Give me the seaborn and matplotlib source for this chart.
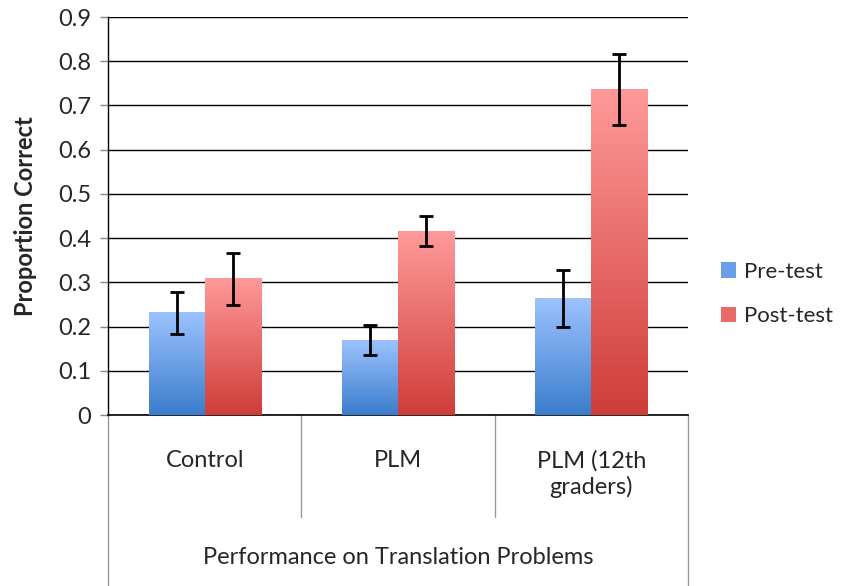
import numpy as np
import pandas as pd
import matplotlib
matplotlib.use("Agg")
import matplotlib.pyplot as plt
import seaborn as sns
from matplotlib.colors import LinearSegmentedColormap
from matplotlib.patches import Patch

# data
groups = ["Control", "PLM", "PLM (12th\ngraders)"]
tests = ["Pre-test", "Post-test"]
pre_mean = [0.233, 0.170, 0.265]
post_mean = [0.310, 0.416, 0.738]
pre_low = [0.184, 0.135, 0.200]
pre_high = [0.278, 0.204, 0.328]
post_low = [0.249, 0.383, 0.656]
post_high = [0.367, 0.449, 0.817]

df = pd.DataFrame({
    "group": groups * 2,
    "test": [tests[0]] * 3 + [tests[1]] * 3,
    "value": pre_mean + post_mean,
    "low": pre_low + post_low,
    "high": pre_high + post_high,
})

# gradient colours (top, bottom)
grad = {
    "Pre-test": ("#9dc3ff", "#3b7dcc"),
    "Post-test": ("#ff9a9a", "#cf3d38"),
}

sns.set_style("white")
plt.rcParams["font.family"] = ["Lato", "DejaVu Sans"]

fig = plt.figure(figsize=(8.45, 5.86), dpi=100)
ax = fig.add_axes([108 / 845, 171 / 586, 580 / 845, 398 / 586])

sns.barplot(data=df, x="group", y="value", hue="test", order=groups,
            hue_order=tests, width=0.58, errorbar=None, ax=ax,
            palette=[grad[t][1] for t in tests], legend=False, zorder=3)

# gradient fill on each bar, clipped to the bar shape
for container, t in zip(ax.containers, tests):
    cmap = LinearSegmentedColormap.from_list(t, [grad[t][1], grad[t][0]])
    for bar in container:
        x0, y0 = bar.get_x(), bar.get_y()
        w, h = bar.get_width(), bar.get_height()
        bar.set_facecolor("none")
        bar.set_edgecolor("none")
        img = ax.imshow(np.linspace(0, 1, 256).reshape(-1, 1), cmap=cmap,
                        origin="lower", aspect="auto",
                        extent=[x0, x0 + w, y0, y0 + h], zorder=3)
        img.set_clip_path(bar)

# error bars
sub = df.set_index(["test", "group"])
for container, t in zip(ax.containers, tests):
    for bar, g in zip(container, groups):
        row = sub.loc[(t, g)]
        xc = bar.get_x() + bar.get_width() / 2
        ax.errorbar(xc, row["value"],
                    yerr=[[row["value"] - row["low"]], [row["high"] - row["value"]]],
                    fmt="none", ecolor="black", elinewidth=2, capsize=5,
                    capthick=2, zorder=5)

ax.set_xlim(-0.5, 2.5)
ax.set_ylim(0, 0.9)

# axes styling
ax.set_yticks(np.arange(0, 0.91, 0.1))
ax.set_yticklabels(["0"] + [f"{v:.1f}" for v in np.arange(0.1, 0.91, 0.1)])
ax.yaxis.grid(True, color="black", linewidth=1.0, zorder=0)
ax.set_axisbelow(True)
for s in ["top", "right"]:
    ax.spines[s].set_visible(False)
ax.spines["left"].set_color("black")
ax.spines["left"].set_linewidth(1.0)
ax.spines["bottom"].set_color("black")
ax.spines["bottom"].set_linewidth(1.2)
ax.tick_params(axis="y", left=True, length=6, width=1, color="#888888",
               labelsize=17, pad=6)
ax.tick_params(axis="x", bottom=False, labelsize=17, pad=22)
for lbl in ax.get_xticklabels():
    lbl.set_linespacing(1.2)
    lbl.set_verticalalignment("top")

ax.set_xlabel("")
ax.set_ylabel("Proportion Correct", fontsize=17, fontweight="bold", labelpad=15)

# category box lines under the axis
trans = ax.get_xaxis_transform()
for xs in [0.5, 1.5]:
    ax.plot([xs, xs], [0, -0.256], transform=trans, color="#999999",
            linewidth=1, clip_on=False)
for xs in [-0.5, 2.5]:
    ax.plot([xs, xs], [0, -0.43], transform=trans, color="#999999",
            linewidth=1, clip_on=False)
ax.text(1, -0.357, "Performance on Translation Problems", transform=trans,
        ha="center", va="center", fontsize=17)

handles = [Patch(facecolor=grad[t][1], edgecolor="none", label=t) for t in tests]
handles[0].set_facecolor("#6a9ee6")
handles[1].set_facecolor("#e86a66")
fig.legend(handles=handles, loc="center left", bbox_to_anchor=(712 / 845, 1 - 294 / 586),
           frameon=False, fontsize=16, handlelength=0.7, handleheight=0.7,
           handletextpad=0.35, labelspacing=1.1, borderaxespad=0)

fig.savefig("out.png", dpi=100)
